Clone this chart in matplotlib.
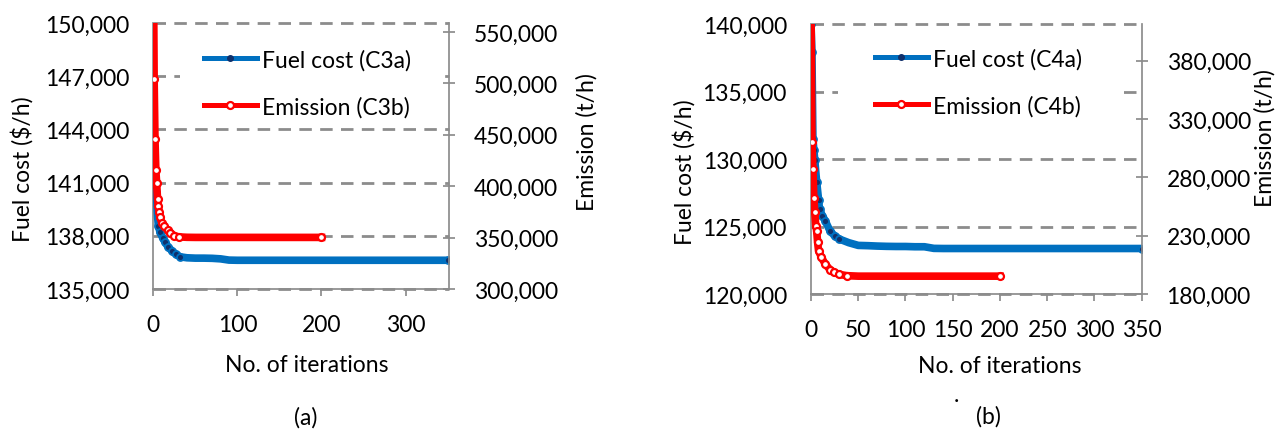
import matplotlib
matplotlib.use("Agg")
import matplotlib.pyplot as plt
from matplotlib.lines import Line2D
from matplotlib.patches import Rectangle
from matplotlib.ticker import FuncFormatter

plt.rcParams['font.family'] = ['Lato', 'DejaVu Sans']

# ---- panel (a): case 3 ----
a_fuel_iter = [0, 1, 2, 3, 4, 5, 6, 8, 11, 14, 18, 22, 27, 32, 40, 50, 60, 70, 80, 90,
               100, 110, 120, 130, 140, 150, 160, 170, 180, 190, 200, 210, 220, 230,
               240, 250, 260, 270, 280, 290, 300, 310, 320, 330, 340, 350]
a_fuel = [144950, 141430, 140730, 140450, 140070, 139130, 138570, 138200, 137900, 137630,
          137350, 137160, 136950, 136815, 136760, 136740, 136740, 136730, 136700, 136630,
          136620, 136620, 136620, 136620, 136620, 136620, 136620, 136620, 136620, 136620,
          136620, 136620, 136620, 136620, 136620, 136620, 136620, 136620, 136620, 136620,
          136620, 136620, 136620, 136620, 136620, 136620]
a_emis_iter = [0, 1, 2, 3, 4, 5, 6, 7, 8, 10, 13, 17, 20, 25, 30, 40, 50, 60, 70, 80, 90,
               100, 110, 120, 130, 140, 150, 160, 170, 180, 190, 200]
a_emis = [640000, 504000, 446000, 415700, 403000, 388000, 380400, 374500, 369600, 364700,
          361000, 357000, 354600, 352000, 350700, 350300, 350200, 350200, 350200, 350200,
          350200, 350200, 350200, 350200, 350200, 350200, 350200, 350200, 350200, 350200,
          350200, 350200]

# ---- panel (b): case 4 ----
b_fuel_iter = [0, 1, 2, 3, 4, 6, 8, 9, 12, 15, 20, 25, 30, 40, 50, 60, 70, 80, 90, 100,
               110, 120, 130, 140, 150, 160, 170, 180, 190, 200, 210, 220, 230, 240, 250,
               260, 270, 280, 290, 300, 310, 320, 330, 340, 350]
b_fuel = [140000, 137950, 131480, 130700, 129900, 128300, 127000, 126300, 125800, 125430,
          124690, 124300, 124070, 123800, 123600, 123580, 123550, 123530, 123520, 123520,
          123500, 123500, 123380, 123370, 123370, 123370, 123370, 123370, 123370, 123370,
          123370, 123370, 123370, 123370, 123370, 123370, 123370, 123370, 123370, 123370,
          123370, 123370, 123370, 123370, 123370]
b_emis_iter = [0, 1, 2, 3, 4, 5, 6, 7, 8, 11, 15, 20, 24, 30, 38, 50, 60, 70, 80, 90, 100,
               110, 120, 130, 140, 150, 160, 170, 180, 190, 200]
b_emis = [430000, 310100, 287200, 262300, 250000, 238600, 234300, 224300, 217100, 211500,
          205700, 201000, 198600, 196800, 195700, 195300, 195300, 195300, 195300, 195300,
          195300, 195300, 195300, 195300, 195300, 195300, 195300, 195300, 195300, 195300,
          195300]

BLUE = '#0070C0'
NAVY = '#10306B'
RED = '#FF0000'
GRAY = '#8C8C8C'
FS = 16.5

W, H = 1284, 431


def fx(px):
    return px / W


def fy(py):
    return 1 - py / H


fig = plt.figure(figsize=(W / 100, H / 100), dpi=100)
comma = FuncFormatter(lambda v, p: f"{v:,.0f}")


def marks(n_early, n_total):
    # separate markers only where the curve is still falling, plus the end point
    return list(range(n_early)) + [n_total - 1]


def make_panel(box, fuel_x, fuel_y, emis_x, emis_y, n_fuel, n_emis, xlim, xticks, ylim,
               yticks, rlim, rticks, legend_box, legend_top, labels):
    left, bottom, right, top = box
    ax = fig.add_axes([fx(left), fy(bottom), fx(right) - fx(left), fy(top) - fy(bottom)])
    axr = ax.twinx()

    ax.plot(fuel_x, fuel_y, color=BLUE, lw=5.5, marker='o', ms=5, mfc=NAVY, mec=BLUE,
            mew=1.3, markevery=marks(n_fuel, len(fuel_x)), zorder=3)
    axr.plot(emis_x, emis_y, color=RED, lw=5.5, marker='o', ms=5, mfc='white', mec=RED,
             mew=1.6, markevery=marks(n_emis, len(emis_x)), zorder=3)

    ax.set_xlim(xlim)
    ax.set_xticks(xticks)
    ax.set_ylim(ylim)
    ax.set_yticks(yticks)
    axr.set_ylim(rlim)
    axr.set_yticks(rticks)
    ax.yaxis.set_major_formatter(comma)
    axr.yaxis.set_major_formatter(comma)

    for a in (ax, axr):
        for s in a.spines.values():
            s.set_visible(False)
    ax.spines['left'].set_visible(True)
    ax.spines['bottom'].set_visible(True)
    axr.spines['right'].set_visible(True)
    for s in (ax.spines['left'], ax.spines['bottom'], axr.spines['right']):
        s.set_color(GRAY)
        s.set_linewidth(1.25)

    ax.yaxis.grid(True, color=GRAY, linestyle=(0, (4.5, 3)), linewidth=2)
    for gl in ax.get_ygridlines():
        gl.set_clip_on(False)

    ax.tick_params(axis='y', length=0, pad=17.3, labelsize=FS)
    ax.tick_params(axis='x', direction='out', length=5, width=1.25, color=GRAY,
                   pad=13, labelsize=FS)
    axr.tick_params(axis='y', direction='inout', length=9, width=1.25, color=GRAY,
                    pad=13.4, labelsize=FS)

    # white legend background hiding the gridlines behind it
    lx0, ly0, lx1, ly1 = legend_box
    axr.add_patch(Rectangle((fx(lx0), fy(ly1)), fx(lx1) - fx(lx0), fy(ly0) - fy(ly1),
                            transform=fig.transFigure, facecolor='white',
                            edgecolor='none', zorder=1))
    handles = [
        Line2D([], [], color=BLUE, lw=3.6, marker='o', ms=4, mfc=NAVY, mec=NAVY),
        Line2D([], [], color=RED, lw=3.6, marker='o', ms=5, mfc='white', mec=RED, mew=1.6),
    ]
    axr.legend(handles, labels, loc='upper left',
               bbox_to_anchor=(fx(legend_top[0]), fy(legend_top[1])),
               bbox_transform=fig.transFigure, frameon=False, fontsize=FS,
               borderpad=0, borderaxespad=0, handlelength=2.3, handletextpad=0.25,
               labelspacing=1.1, numpoints=1)
    return ax, axr


make_panel((153.3, 290, 449.3, 24), a_fuel_iter, a_fuel, a_emis_iter, a_emis, 14, 15,
           (0, 352), [0, 100, 200, 300],
           (135000, 150000), [135000, 138000, 141000, 144000, 147000, 150000],
           (300000, 558800), [300000, 350000, 400000, 450000, 500000, 550000],
           (180, 30, 445, 128), (204, 50), ['Fuel cost (C3a)', 'Emission (C3b)'])

make_panel((811, 295, 1141.7, 25), b_fuel_iter, b_fuel, b_emis_iter, b_emis, 13, 15,
           (0, 350), [0, 50, 100, 150, 200, 250, 300, 350],
           (120000, 140000), [120000, 125000, 130000, 135000, 140000],
           (180000, 411500), [180000, 230000, 280000, 330000, 380000],
           (838, 31, 1118, 129), (875, 49), ['Fuel cost (C4a)', 'Emission (C4b)'])

# axis titles and captions
fig.text(fx(22.5), fy(169), 'Fuel cost ($/h)', rotation=90, ha='center', va='center', fontsize=FS)
fig.text(fx(587), fy(142.5), 'Emission (t/h)', rotation=90, ha='center', va='center', fontsize=FS)
fig.text(fx(684), fy(172), 'Fuel cost ($/h)', rotation=90, ha='center', va='center', fontsize=FS)
fig.text(fx(1265), fy(138), 'Emission (t/h)', rotation=90, ha='center', va='center', fontsize=FS)
fig.text(fx(307), fy(366), 'No. of iterations', ha='center', va='center', fontsize=FS)
fig.text(fx(1000), fy(367), 'No. of iterations', ha='center', va='center', fontsize=FS)
fig.text(fx(306), fy(418), '(a)', ha='center', va='center', fontsize=FS)
fig.text(fx(988), fy(417), '(b)', ha='center', va='center', fontsize=FS)
fig.text(fx(956), fy(396), '.', ha='center', va='center', fontsize=FS)

fig.savefig('out.png', dpi=100, facecolor='white')
